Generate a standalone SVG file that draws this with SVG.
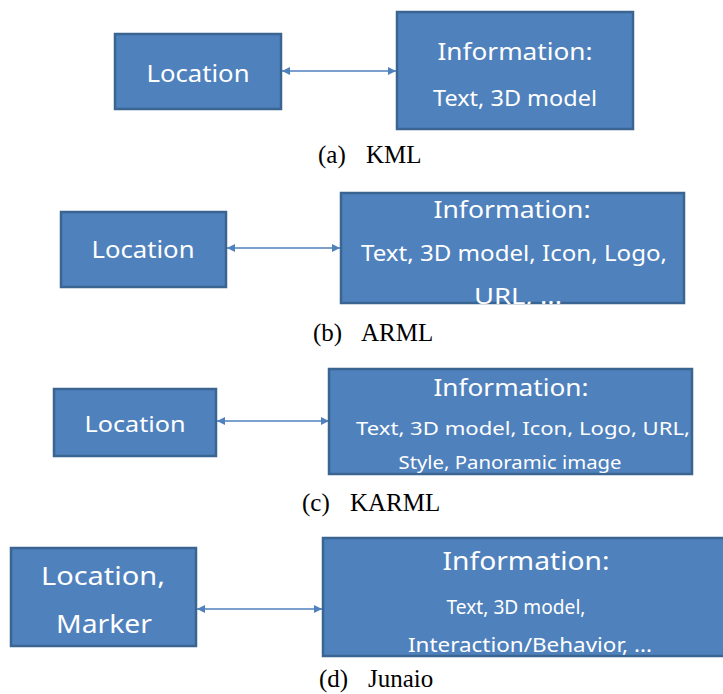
<svg xmlns="http://www.w3.org/2000/svg" width="723" height="694" viewBox="0 0 723 694">
<style>
.box{fill:#4F81BD;stroke:#3A6491;stroke-width:2.5}
.t{fill:#fff;font-family:"Noto Sans","Open Sans",sans-serif;text-anchor:middle}
.cap{fill:#000;font-family:"Liberation Serif","Times New Roman",serif;font-size:25px}
.con{stroke:#4F81BD;stroke-width:1.5;fill:none;marker-start:url(#ah);marker-end:url(#ah)}
</style>
<defs>
<marker id="ah" viewBox="0 0 10 10" refX="10" refY="5" markerWidth="8" markerHeight="8" markerUnits="userSpaceOnUse" orient="auto-start-reverse">
<path d="M0,0 L10,5 L0,10 z" fill="#4F81BD"/>
</marker>
<clipPath id="cb"><rect x="340" y="192" width="345" height="112"/></clipPath>
</defs>
<rect width="723" height="694" fill="#fff"/>
<g id="connectors">
<line class="con" x1="282" y1="71" x2="396" y2="71"/>
<line class="con" x1="227" y1="248" x2="340" y2="248"/>
<line class="con" x1="217" y1="421" x2="329" y2="421"/>
<line class="con" x1="197" y1="609" x2="322" y2="609"/>
</g>
<g id="a-location">
<rect class="box" x="115" y="34" width="166" height="75"/>
<text class="t" x="198" y="82" font-size="23" textLength="103" lengthAdjust="spacingAndGlyphs">Location</text>
</g>
<g id="a-information">
<rect class="box" x="397" y="12" width="236" height="117"/>
<text class="t" x="515" y="60" font-size="23" textLength="155" lengthAdjust="spacingAndGlyphs">Information:</text>
<text class="t" x="515" y="106" font-size="21" textLength="164" lengthAdjust="spacingAndGlyphs">Text, 3D model</text>
</g>
<text class="cap" y="163"><tspan x="318">(a)</tspan><tspan x="366">KML</tspan></text>
<g id="b-location">
<rect class="box" x="61" y="212" width="165" height="75"/>
<text class="t" x="143" y="258" font-size="23" textLength="103" lengthAdjust="spacingAndGlyphs">Location</text>
</g>
<g id="b-information">
<rect class="box" x="341" y="193" width="343" height="110"/>
<g clip-path="url(#cb)">
<text class="t" x="512" y="218" font-size="23" textLength="157" lengthAdjust="spacingAndGlyphs">Information:</text>
<text class="t" x="514" y="261" font-size="21" textLength="306" lengthAdjust="spacingAndGlyphs">Text, 3D model, Icon, Logo,</text>
<text class="t" x="518" y="304" font-size="21" textLength="88" lengthAdjust="spacingAndGlyphs">URL, ...</text>
</g>
</g>
<text class="cap" y="341"><tspan x="313">(b)</tspan><tspan x="361">ARML</tspan></text>
<g id="c-location">
<rect class="box" x="54" y="389" width="162" height="67"/>
<text class="t" x="135" y="432" font-size="22" textLength="101" lengthAdjust="spacingAndGlyphs">Location</text>
</g>
<g id="c-information">
<rect class="box" x="329" y="369" width="363" height="105"/>
<text class="t" x="511" y="396" font-size="23" textLength="155" lengthAdjust="spacingAndGlyphs">Information:</text>
<text class="t" x="523" y="435" font-size="18" textLength="334" lengthAdjust="spacingAndGlyphs">Text, 3D model, Icon, Logo, URL,</text>
<text class="t" x="510" y="469" font-size="18" textLength="223" lengthAdjust="spacingAndGlyphs">Style, Panoramic image</text>
</g>
<text class="cap" y="511"><tspan x="302">(c)</tspan><tspan x="350">KARML</tspan></text>
<g id="d-location">
<rect class="box" x="11" y="548" width="185" height="98"/>
<text class="t" x="103" y="585" font-size="25" textLength="124" lengthAdjust="spacingAndGlyphs">Location,</text>
<text class="t" x="104" y="633" font-size="25" textLength="96" lengthAdjust="spacingAndGlyphs">Marker</text>
</g>
<g id="d-information">
<rect class="box" x="323" y="538" width="410" height="118"/>
<text class="t" x="526" y="570" font-size="25" textLength="167" lengthAdjust="spacingAndGlyphs">Information:</text>
<text class="t" x="516" y="614" font-size="20" textLength="139" lengthAdjust="spacingAndGlyphs">Text, 3D model,</text>
<text class="t" x="530" y="652" font-size="20" textLength="244" lengthAdjust="spacingAndGlyphs">Interaction/Behavior, ...</text>
</g>
<text class="cap" y="687"><tspan x="319">(d)</tspan><tspan x="368">Junaio</tspan></text>
</svg>
